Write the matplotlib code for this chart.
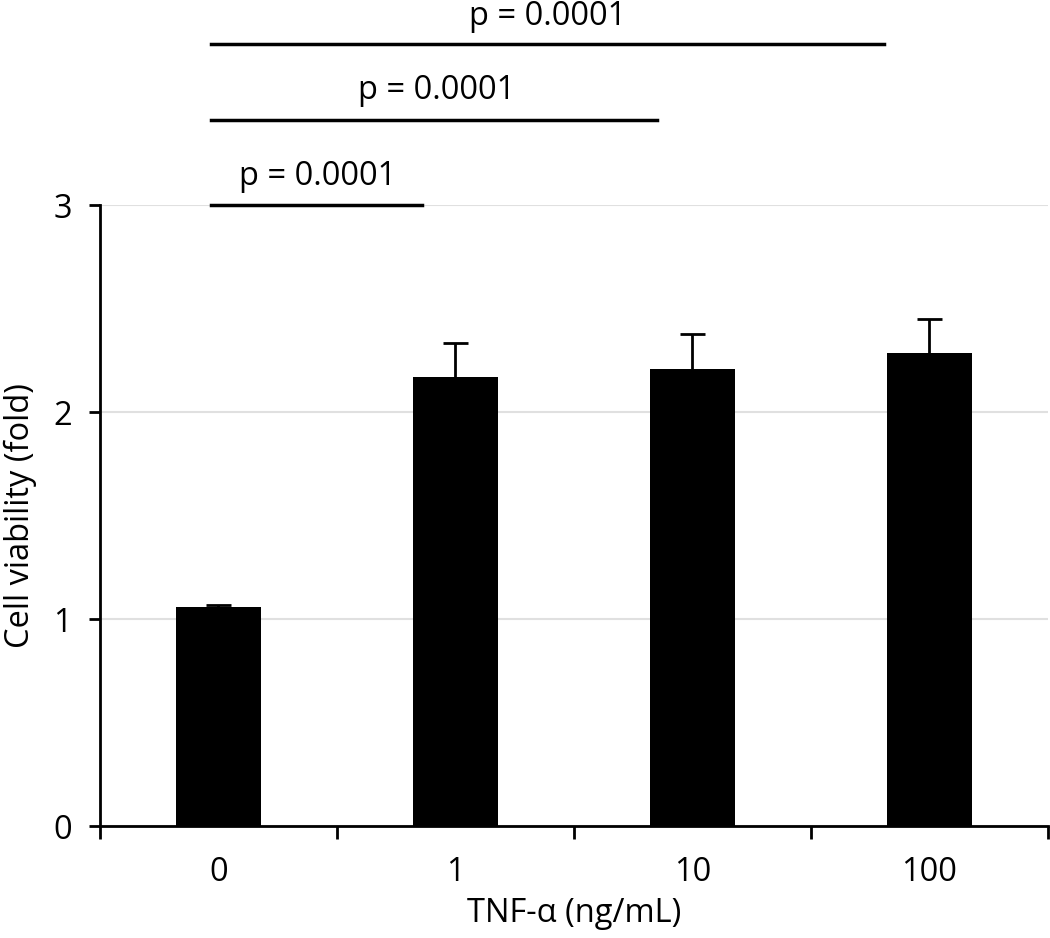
import numpy as np
import matplotlib.pyplot as plt

plt.rcParams['font.family'] = ['Open Sans', 'DejaVu Sans']

# data
doses = ['0', '1', '10', '100']
viability = [1.06, 2.17, 2.21, 2.285]
err = [0.01, 0.165, 0.17, 0.165]

# significance brackets
sig_x0 = [-0.03, -0.03, -0.03]
sig_x1 = [0.86, 1.85, 2.81]
sig_y = [3.0, 3.415, 3.778]
sig_text_x = [0.42, 0.92, 1.39]
sig_text_y = [3.097, 3.512, 3.874]
sig_labels = ['p = 0.0001', 'p = 0.0001', 'p = 0.0001']

FS = 23.5

fig = plt.figure(figsize=(10.5, 9.38), dpi=100)
ax = fig.add_axes([0.095, 0.119, 0.903, 0.662])

x = np.arange(len(doses))
ax.bar(x, viability, width=0.36, color='black', zorder=3)
_, caps, _ = ax.errorbar(x, viability, yerr=[np.zeros(len(err)), err], fmt='none',
                         ecolor='black', elinewidth=2, capsize=9, capthick=2, zorder=2)
caps[0].set_visible(False)  # only the upper cap

ax.set_xlim(-0.5, 3.5)
ax.set_ylim(0, 3)
ax.set_yticks([0, 1, 2, 3])
ax.set_xticks(x)
ax.set_xticklabels(doses)
ax.set_xticks(np.arange(-0.5, 4, 1), minor=True)
ax.tick_params(axis='x', which='major', length=0, pad=21, labelsize=FS)
ax.tick_params(axis='x', which='minor', length=9, width=2, direction='out')
ax.tick_params(axis='y', length=8, width=2, pad=12, labelsize=FS)

ax.yaxis.grid(True, color='#e0e0e0', linewidth=1.5, zorder=0)
ax.set_axisbelow(True)
for s in ['top', 'right']:
    ax.spines[s].set_visible(False)
for s in ['left', 'bottom']:
    ax.spines[s].set_linewidth(2)

ax.set_xlabel('TNF-α (ng/mL)', fontsize=FS, labelpad=6)
ax.set_ylabel('Cell viability (fold)', fontsize=FS, labelpad=12)

for i in range(len(sig_labels)):
    ax.plot([sig_x0[i], sig_x1[i]], [sig_y[i], sig_y[i]], color='black',
            linewidth=2.5, clip_on=False, zorder=4)
    ax.text(sig_text_x[i], sig_text_y[i], sig_labels[i], ha='center',
            va='baseline', fontsize=FS, clip_on=False)

fig.savefig('out.png', dpi=100)
